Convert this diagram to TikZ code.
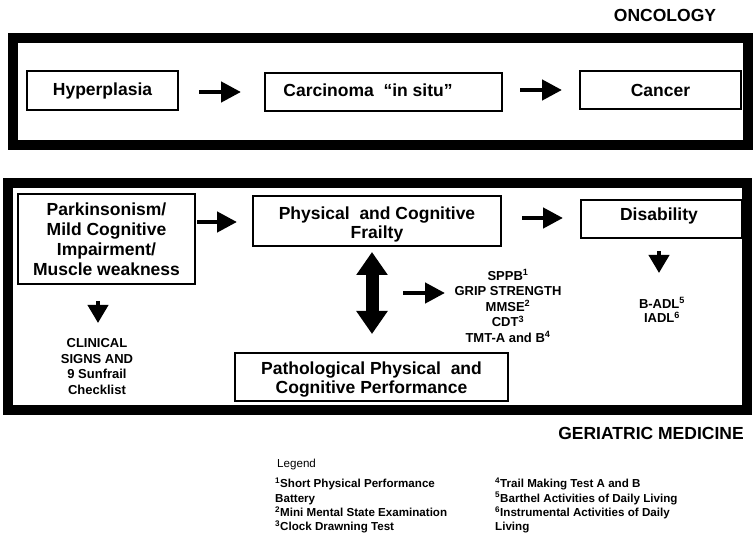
\documentclass[tikz,border=0pt]{standalone}
\usepackage{fontspec}
\setmainfont{Liberation Sans}
\usetikzlibrary{arrows.meta}
\begin{document}
\begin{tikzpicture}[x=1pt,y=-1pt,
  frame/.style={draw, line width=10pt, inner sep=0pt},
  box/.style={draw, line width=2pt, inner sep=0pt, align=center, font=\bfseries\fontsize{17.5}{20}\selectfont},
  big/.style={inner sep=0pt, align=center, font=\bfseries\fontsize{17.5}{19.5}\selectfont},
  small/.style={inner sep=0pt, align=center, font=\bfseries\fontsize{13}{15.5}\selectfont},
  leg/.style={inner sep=0pt, align=left, anchor=west, font=\bfseries\fontsize{11.6}{14.3}\selectfont},
  fat/.style={line width=4.5pt, -{Triangle[length=20pt,width=20pt]}},
  drop/.style={line width=4pt, -{Triangle[length=18pt,width=20pt]}},
  dbl/.style={line width=13pt, {Triangle[length=23pt,width=30pt]}-{Triangle[length=23pt,width=30pt]}},
]
\useasboundingbox (0,0) rectangle (756,540);
\fill[white] (0,0) rectangle (756,540);

% Oncology
\node[big] (onc) at (665,15) {ONCOLOGY};
\node[frame, minimum width=735pt, minimum height=107pt] (topf) at (380.5,91.5) {};
\node[box, minimum width=151pt, minimum height=39pt] (hyp) at (102.5,90.5) {Hyperplasia};
\node[box, minimum width=237pt, minimum height=38pt] (carc) at (383.5,92) {};
\node[big] (carct) at (368,90.5) {Carcinoma~ “in situ”};
\node[box, minimum width=161pt, minimum height=38pt] (canc) at (660.5,90) {Cancer};

\coordinate (a1s) at (199,92); \coordinate (a1e) at (241,92);
\coordinate (a2s) at (520,90); \coordinate (a2e) at (562,90);
\draw[fat] (a1s) -- (a1e);
\draw[fat] (a2s) -- (a2e);

% Geriatric medicine
\node[frame, minimum width=739pt, minimum height=227pt] (botf) at (377.5,296.5) {};
\node[box, minimum width=177pt, minimum height=90pt] (park) at (106.5,239) {Parkinsonism/\\Mild Cognitive\\Impairment/\\Muscle weakness};
\node[box, minimum width=248pt, minimum height=50pt] (frail) at (377,221) {};
\node[big] (frailt) at (377,224.5) {Physical~ and Cognitive\\Frailty};
\node[box, minimum width=161pt, minimum height=38pt] (dis) at (661.5,219) {};
\node[big] (dist) at (659,216) {Disability};
\node[box, minimum width=273pt, minimum height=48pt] (patho) at (371.5,377) {};
\node[big] (pathot) at (371.5,379.5) {Pathological Physical~ and\\Cognitive Performance};

\node[small] (clin) at (97,366.5) {CLINICAL\\SIGNS AND\\9 Sunfrail\\Checklist};
\node[small] (tests) at (508,306) {SPPB\textsuperscript{1}\\GRIP STRENGTH\\MMSE\textsuperscript{2}\\CDT\textsuperscript{3}\\TMT-A and B\textsuperscript{4}};
\node[small, font=\bfseries\fontsize{13}{14.5}\selectfont] (adl) at (662,310) {B-ADL\textsuperscript{5}\\IADL\textsuperscript{6}};

\coordinate (b1s) at (197,222); \coordinate (b1e) at (237,222);
\coordinate (b2s) at (522,218); \coordinate (b2e) at (563,218);
\coordinate (b3s) at (403,293); \coordinate (b3e) at (445,293);
\coordinate (d1s) at (98,301); \coordinate (d1e) at (98,323);
\coordinate (d2s) at (659,251); \coordinate (d2e) at (659,273);
\coordinate (v1) at (372,252); \coordinate (v2) at (372,334);
\draw[fat] (b1s) -- (b1e);
\draw[fat] (b2s) -- (b2e);
\draw[fat] (b3s) -- (b3e);
\draw[drop] (d1s) -- (d1e);
\draw[drop] (d2s) -- (d2e);
\draw[dbl] (v1) -- (v2);

\node[big] (ger) at (651,433) {GERIATRIC MEDICINE};

% Legend
\node[leg, font=\fontsize{11.6}{14}\selectfont] (legt) at (277,465) {Legend};
\node[leg] (legl) at (275,505.5) {\textsuperscript{1}Short Physical Performance\\Battery\\\textsuperscript{2}Mini Mental State Examination\\\textsuperscript{3}Clock Drawning Test};
\node[leg] (legr) at (495,505.5) {\textsuperscript{4}Trail Making Test A and B\\\textsuperscript{5}Barthel Activities of Daily Living\\\textsuperscript{6}Instrumental Activities of Daily\\Living};
\end{tikzpicture}
\end{document}
